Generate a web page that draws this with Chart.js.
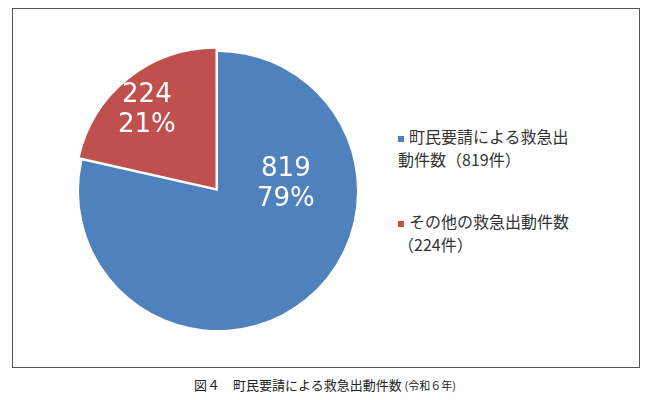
<!DOCTYPE html>
<html><head><meta charset="utf-8">
<script src="https://cdn.jsdelivr.net/npm/chart.js@4"></script>
<style>
body{margin:0;background:#fff;font-family:"Noto Sans CJK JP",sans-serif;}
#box{position:absolute;left:12px;top:8px;width:626px;height:358px;border:1px solid #555;}
#wrap{position:absolute;left:71px;top:44px;width:294px;height:294px;}
.lab{position:absolute;color:#fff;font-family:"DejaVu Sans",sans-serif;font-size:26px;line-height:30px;text-align:center;}
.leg{position:absolute;left:398px;font-size:16px;line-height:23px;color:#333;}
.leg i{display:inline-block;width:6px;height:6px;margin-right:5px;vertical-align:middle;}
#cap{position:absolute;top:375px;width:650px;text-align:center;font-size:13px;color:#222;}
</style></head><body>
<div id="box"></div>
<div id="wrap"><canvas id="c"></canvas></div>
<div class="lab" style="left:257px;top:152px">819<br>79%</div>
<div class="lab" style="left:118px;top:78px">224<br>21%</div>
<div class="leg" style="top:125px"><i style="background:#4f81bd"></i>町民要請による救急出<br>動件数（819件）</div>
<div class="leg" style="top:210px"><i style="background:#c0504d"></i>その他の救急出動件数<br>（224件）</div>
<div id="cap">図４　町民要請による救急出動件数 <span style="font-size:11px">(令和６年)</span></div>
<script>
// 件数データ
const labels = ['町民要請による救急出動件数', 'その他の救急出動件数'];
const values = [819, 224];
const colors = ['#4f81bd', '#c0504d'];

new Chart(document.getElementById('c'), {
  type: 'pie',
  data: {
    labels: labels,
    datasets: [{
      data: values,
      backgroundColor: colors,
      borderWidth: 0,
      offset: ctx => ctx.dataIndex === 1 ? 16 : 0
    }]
  },
  options: {
    responsive: true,
    maintainAspectRatio: false,
    animation: false,
    plugins: { legend: { display: false }, tooltip: { enabled: false } }
  }
});
</script>
</body></html>
